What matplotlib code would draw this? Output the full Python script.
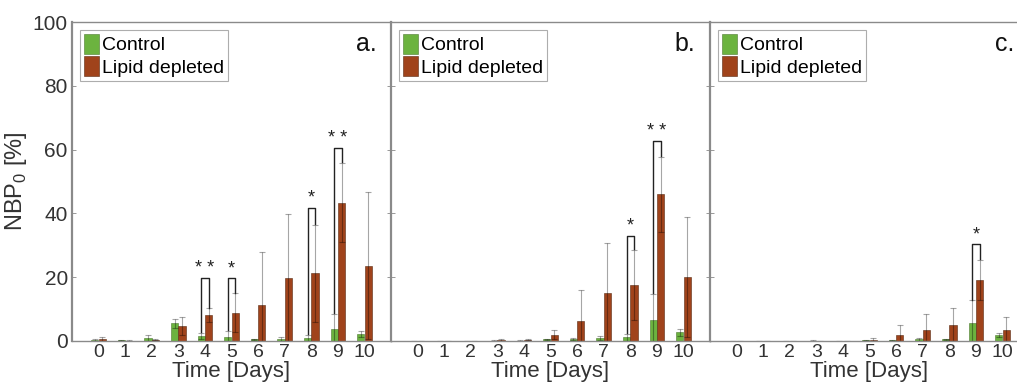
import numpy as np
import matplotlib
matplotlib.use("Agg")
import matplotlib.pyplot as plt

plt.rcParams["font.family"] = ["Liberation Sans", "DejaVu Sans"]

days = np.arange(11)
day_labels = [str(d) for d in days]
panel_tags = ["a.", "b.", "c."]

# ── values (NBP0 in %) ─────────────────────────────────────────────────
ctrl_a = [0.2, 0.2, 1.0, 5.5, 1.6, 1.3, 0.5, 0.7, 1.0, 3.9, 2.1]
ctrl_a_err = [0.3, 0.2, 1.0, 1.3, 1.0, 1.8, 0.2, 0.6, 1.0, 4.5, 0.9]
lipid_a = [0.7, 0.1, 0.4, 4.8, 8.1, 8.8, 11.4, 19.6, 21.3, 43.3, 23.6]
lipid_a_err = [0.6, 0.1, 0.2, 2.8, 2.1, 6.1, 16.5, 20.3, 15.2, 12.4, 23.1]

ctrl_b = [0.0, 0.0, 0.0, 0.1, 0.1, 0.5, 0.6, 0.9, 1.1, 6.5, 2.8]
ctrl_b_err = [0.0, 0.0, 0.0, 0.1, 0.1, 0.2, 0.3, 0.6, 1.2, 8.3, 1.1]
lipid_b = [0.0, 0.0, 0.0, 0.4, 0.4, 2.0, 6.3, 15.0, 17.6, 46.0, 20.1]
lipid_b_err = [0.0, 0.0, 0.0, 0.3, 0.2, 1.5, 9.8, 15.7, 10.9, 11.8, 18.8]

ctrl_c = [0.0, 0.0, 0.0, 0.1, 0.0, 0.2, 0.2, 0.5, 0.5, 5.6, 2.0]
ctrl_c_err = [0.0, 0.0, 0.0, 0.1, 0.0, 0.1, 0.1, 0.4, 0.2, 7.1, 0.6]
lipid_c = [0.0, 0.0, 0.0, 0.0, 0.0, 0.4, 2.0, 3.6, 5.1, 19.2, 3.5]
lipid_c_err = [0.0, 0.0, 0.0, 0.0, 0.0, 0.4, 2.9, 4.9, 5.2, 6.3, 4.0]

# significance brackets: (day, bracket top, stars)
sig_a = [(4, 19.7, "**"), (5, 19.7, "*"), (8, 41.8, "*"), (9, 60.5, "**")]
sig_b = [(8, 33.0, "*"), (9, 62.7, "**")]
sig_c = [(9, 30.4, "*")]

panels = [
    (ctrl_a, ctrl_a_err, lipid_a, lipid_a_err, sig_a),
    (ctrl_b, ctrl_b_err, lipid_b, lipid_b_err, sig_b),
    (ctrl_c, ctrl_c_err, lipid_c, lipid_c_err, sig_c),
]

GREEN = "#6cb33f"
BROWN = "#a0431b"
EDGE = "#8a8a8a"
off, bw = 0.14, 0.27

fig = plt.figure(figsize=(10.17, 3.89), dpi=100)
W = 319 / 1017
bottom, height = 1 - 341 / 389, 319 / 389
lefts = [72 / 1017, 391 / 1017, 710 / 1017]

for i, (ctrl, ctrl_err, lip, lip_err, sigs) in enumerate(panels):
    ax = fig.add_axes([lefts[i], bottom, W, height])
    ax.bar(days - off, ctrl, bw, color=GREEN, edgecolor="#4d7a30", lw=0.4,
           label="Control")
    ax.bar(days + off, lip, bw, color=BROWN, edgecolor="#5a2a12", lw=0.4,
           label="Lipid depleted")
    ax.errorbar(days - off, ctrl, yerr=ctrl_err, fmt="none", ecolor="k",
                alpha=0.35, elinewidth=0.8, capsize=2.5, capthick=0.8)
    ax.errorbar(days + off, lip, yerr=lip_err, fmt="none", ecolor="k",
                alpha=0.35, elinewidth=0.8, capsize=2.5, capthick=0.8)

    # brackets
    for d, top, stars in sigs:
        y_left = ctrl[d] + ctrl_err[d] + 0.3
        y_right = lip[d] + lip_err[d] + 0.3
        ax.plot([d - off, d - off, d + off, d + off],
                [y_left, top, top, y_right], color="#222222", lw=1.0)
        ax.text(d, top + 0.3, stars.replace("**", "* *"), ha="center",
                va="bottom", fontsize=13, color="#222222")

    ax.set_xlim(-1, 11)
    ax.set_ylim(0, 100)
    ax.set_xticks(days)
    ax.set_xticklabels(day_labels, fontsize=14, color="#333333")
    ax.set_yticks(np.arange(0, 101, 20))
    if i == 0:
        ax.set_yticklabels([str(v) for v in range(0, 101, 20)], fontsize=15,
                           color="#333333")
        ax.set_ylabel(r"NBP$_\mathregular{0}$ [%]", fontsize=17,
                      color="#333333", labelpad=3)
    else:
        ax.set_yticklabels([])
    ax.tick_params(axis="both", direction="in", top=True, right=True,
                   length=3, width=0.6, color="#888888", pad=3)
    ax.tick_params(axis="x", length=0, pad=2)
    for sp in ax.spines.values():
        sp.set_color(EDGE)
        sp.set_linewidth(1.0)
    ax.spines["left"].set_linewidth(1.6)
    ax.set_xlabel("Time [Days]", fontsize=16, color="#333333", labelpad=0)

    ax.text(0.955, 0.93, panel_tags[i], transform=ax.transAxes, ha="right",
            va="center", fontsize=18, color="#111111")

    leg = ax.legend(loc="upper left", fontsize=14, frameon=True, fancybox=False,
                    handlelength=0.8, handleheight=1.2, handletextpad=0.15,
                    labelspacing=0.1, borderpad=0.2, borderaxespad=0.4)
    leg.get_frame().set_edgecolor("#999999")
    leg.get_frame().set_linewidth(0.8)

fig.savefig("out.png", dpi=100)
